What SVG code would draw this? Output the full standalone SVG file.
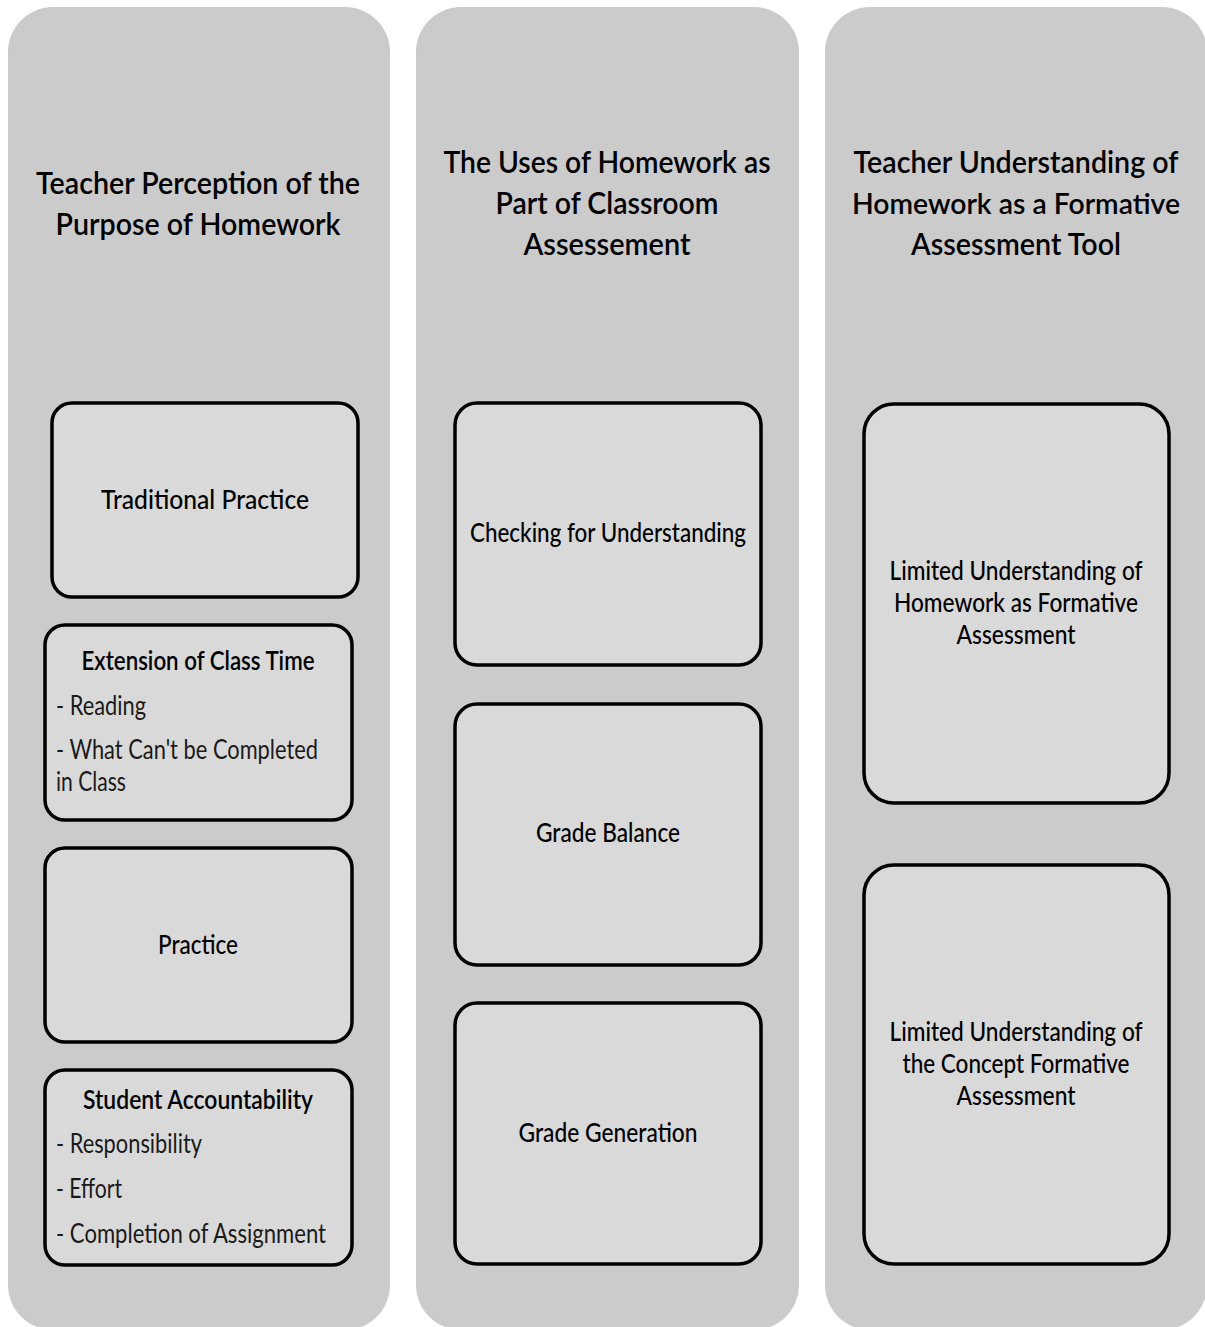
<svg xmlns="http://www.w3.org/2000/svg" width="1205" height="1327" viewBox="0 0 1205 1327">
<style>
.col{fill:#cbcbcb;}
.box{fill:#d9d9d9;stroke:#000;stroke-width:3.5;}
text{font-family:Lato,"Open Sans","Liberation Sans",sans-serif;fill:#000;}
.t{font-size:31px;text-anchor:middle;font-weight:600;}
.b{font-size:26px;text-anchor:middle;font-weight:500;}
.h{font-size:26px;text-anchor:middle;font-weight:600;}
.l{font-size:26px;text-anchor:start;fill:#1a1a1a;}
</style>
<rect width="1205" height="1327" fill="#fff"/>
<g id="column1">
<rect class="col" x="8" y="7" width="382" height="1323" rx="45"/>
<text class="t" x="198" y="194" textLength="324" lengthAdjust="spacingAndGlyphs">Teacher Perception of the</text>
<text class="t" x="198" y="235" textLength="285" lengthAdjust="spacingAndGlyphs">Purpose of Homework</text>
</g>
<g id="column2">
<rect class="col" x="416" y="7" width="383" height="1323" rx="45"/>
<text class="t" x="607" y="173" textLength="327" lengthAdjust="spacingAndGlyphs">The Uses of Homework as</text>
<text class="t" x="607" y="214" textLength="223" lengthAdjust="spacingAndGlyphs">Part of Classroom</text>
<text class="t" x="607" y="255" textLength="167" lengthAdjust="spacingAndGlyphs">Assessement</text>
</g>
<g id="column3">
<rect class="col" x="825" y="7" width="382" height="1323" rx="45"/>
<text class="t" x="1016" y="173" textLength="325" lengthAdjust="spacingAndGlyphs">Teacher Understanding of</text>
<text class="t" x="1016" y="214" textLength="328" lengthAdjust="spacingAndGlyphs" style="font-size:29.5px">Homework as a Formative</text>
<text class="t" x="1016" y="255" textLength="210" lengthAdjust="spacingAndGlyphs">Assessment Tool</text>
</g>
<g id="connectors"/>
<g id="traditional-practice">
<rect class="box" x="52" y="403" width="306" height="194" rx="20"/>
<text class="b" x="205" y="509" textLength="208" lengthAdjust="spacingAndGlyphs">Traditional Practice</text>
</g>
<g id="extension-of-class-time">
<rect class="box" x="45" y="625" width="307" height="195" rx="20"/>
<text class="h" x="198" y="670" textLength="233" lengthAdjust="spacingAndGlyphs">Extension of Class Time</text>
<text class="l" x="56" y="715" textLength="90" lengthAdjust="spacingAndGlyphs">- Reading</text>
<text class="l" x="56" y="759" textLength="262" lengthAdjust="spacingAndGlyphs">- What Can't be Completed</text>
<text class="l" x="56" y="791" textLength="70" lengthAdjust="spacingAndGlyphs">in Class</text>
</g>
<g id="practice">
<rect class="box" x="45" y="848" width="307" height="194" rx="20"/>
<text class="b" x="198" y="954" textLength="80" lengthAdjust="spacingAndGlyphs">Practice</text>
</g>
<g id="student-accountability">
<rect class="box" x="45" y="1070" width="307" height="195" rx="20"/>
<text class="h" x="198" y="1109" textLength="230" lengthAdjust="spacingAndGlyphs">Student Accountability</text>
<text class="l" x="56" y="1153" textLength="146" lengthAdjust="spacingAndGlyphs">- Responsibility</text>
<text class="l" x="56" y="1198" textLength="66" lengthAdjust="spacingAndGlyphs">- Effort</text>
<text class="l" x="56" y="1243" textLength="270" lengthAdjust="spacingAndGlyphs">- Completion of Assignment</text>
</g>
<g id="checking-for-understanding">
<rect class="box" x="455" y="403" width="306" height="262" rx="22"/>
<text class="b" x="608" y="542" textLength="276" lengthAdjust="spacingAndGlyphs">Checking for Understanding</text>
</g>
<g id="grade-balance">
<rect class="box" x="455" y="704" width="306" height="261" rx="22"/>
<text class="b" x="608" y="842" textLength="144" lengthAdjust="spacingAndGlyphs">Grade Balance</text>
</g>
<g id="grade-generation">
<rect class="box" x="455" y="1003" width="306" height="261" rx="22"/>
<text class="b" x="608" y="1142" textLength="179" lengthAdjust="spacingAndGlyphs">Grade Generation</text>
</g>
<g id="limited-understanding-homework">
<rect class="box" x="864" y="404" width="305" height="399" rx="30"/>
<text class="b" x="1016" y="580" textLength="253" lengthAdjust="spacingAndGlyphs">Limited Understanding of</text>
<text class="b" x="1016" y="612" textLength="244" lengthAdjust="spacingAndGlyphs">Homework as Formative</text>
<text class="b" x="1016" y="644" textLength="119" lengthAdjust="spacingAndGlyphs">Assessment</text>
</g>
<g id="limited-understanding-concept">
<rect class="box" x="864" y="865" width="305" height="399" rx="30"/>
<text class="b" x="1016" y="1041" textLength="253" lengthAdjust="spacingAndGlyphs">Limited Understanding of</text>
<text class="b" x="1016" y="1073" textLength="227" lengthAdjust="spacingAndGlyphs">the Concept Formative</text>
<text class="b" x="1016" y="1105" textLength="119" lengthAdjust="spacingAndGlyphs">Assessment</text>
</g>
</svg>
